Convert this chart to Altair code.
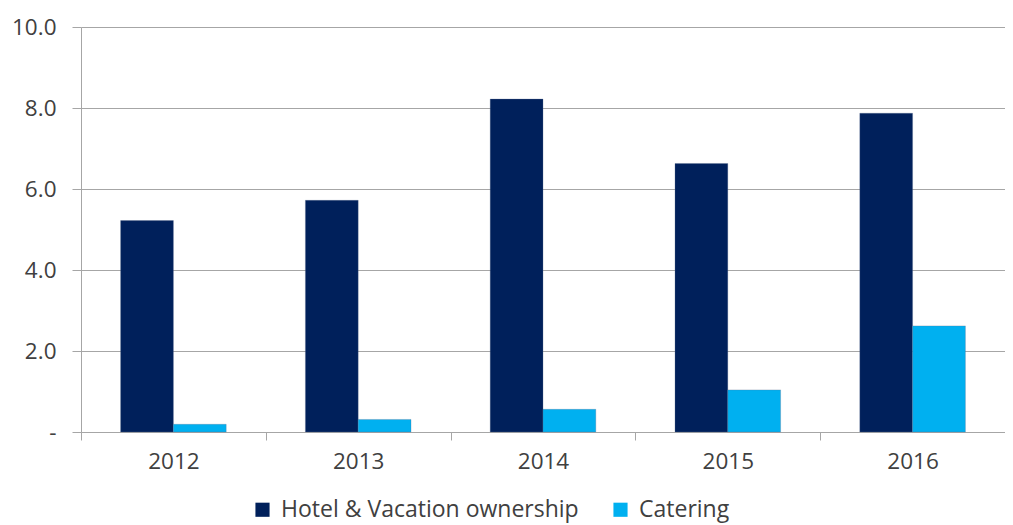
import altair as alt
import pandas as pd

years = ["2012", "2013", "2014", "2015", "2016"]
hotel = [5.22, 5.72, 8.22, 6.63, 7.87]
catering = [0.19, 0.31, 0.56, 1.04, 2.62]
series_names = ["Hotel & Vacation ownership", "Catering"]
series_colors = ["#00205B", "#00B0F0"]
y_ticks = [0, 2, 4, 6, 8, 10]

rows = []
for i, y in enumerate(years):
    rows.append({"year": y, "series": series_names[0], "value": hotel[i]})
    rows.append({"year": y, "series": series_names[1], "value": catering[i]})
df = pd.DataFrame(rows)

FONT = "Open Sans"
TXT = "#404040"
GRID = "#a6a6a6"

chart = alt.Chart(df).mark_bar(stroke="#5a6a90", strokeWidth=0.5, strokeOpacity=0.6).encode(
    x=alt.X("year:N", sort=years, title=None,
            scale=alt.Scale(paddingInner=0, paddingOuter=0),
            axis=alt.Axis(labelAngle=0, labelFont=FONT, labelFontSize=22.5, labelColor=TXT,
                          domainColor=GRID, tickColor=GRID, tickSize=8, tickBand="extent",
                          labelPadding=10, grid=False)),
    xOffset=alt.XOffset("series:N", sort=series_names,
                        scale=alt.Scale(paddingInner=0, paddingOuter=0.75)),
    y=alt.Y("value:Q", title=None,
            scale=alt.Scale(domain=[0, 10], nice=False),
            axis=alt.Axis(values=y_ticks,
                          labelExpr="datum.value == 0 ? '-' : format(datum.value, '.1f')",
                          labelFont=FONT, labelFontSize=22.5, labelColor=TXT,
                          domainColor=GRID, tickColor=GRID, tickSize=9, labelPadding=16,
                          gridColor=GRID, gridWidth=1.2)),
    color=alt.Color("series:N", sort=series_names,
                    scale=alt.Scale(domain=series_names, range=series_colors),
                    legend=alt.Legend(title=None, orient="none", legendX=170, legendY=471,
                                      direction="horizontal", symbolType="square",
                                      symbolSize=200, symbolStrokeWidth=0,
                                      labelFont=FONT, labelFontSize=23, labelColor=TXT,
                                      labelLimit=500, columnPadding=30, labelOffset=7)),
).properties(
    width=924, height=405,
    autosize=alt.AutoSizeParams(type="none"),
    padding={"left": 73, "top": 19, "right": 0, "bottom": 92},
).configure_view(stroke=None)

chart.save("out.html", embed_options={"renderer": "svg", "actions": False})
